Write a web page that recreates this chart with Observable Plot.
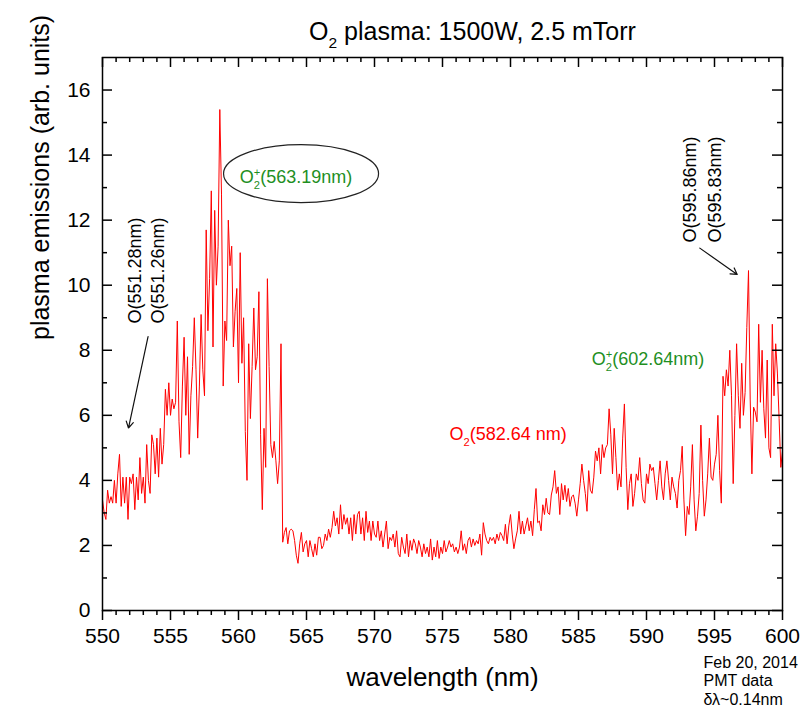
<!DOCTYPE html>
<html><head><meta charset="utf-8">
<script src="https://cdn.jsdelivr.net/npm/d3@7"></script>
<script src="https://cdn.jsdelivr.net/npm/@observablehq/plot@0.6"></script>
<style>html,body{margin:0;padding:0;background:#fff;}</style>
</head><body><div id="chart"></div>
<script>
// ---- data (8 samples per nm, 550 -> 600 nm) ----
const wavelengthStart = 550;
const wavelengthStep = 0.125;
const intensity = [
  3.4, 3.0, 2.8, 3.7, 3.3, 3.5, 3.3, 4.0,      // 550
  3.3, 4.2, 4.8, 3.2, 4.1, 3.3, 4.1, 2.8,      // 551
  4.1, 3.9, 4.2, 3.1, 4.1, 3.4, 4.7, 3.6,      // 552
  4.1, 3.3, 5.1, 4.0, 3.6, 5.4, 5.1, 4.2,      // 553
  5.3, 4.1, 5.6, 4.5, 5.1, 6.8, 6.0, 7.0,      // 554
  6.0, 6.5, 6.2, 6.4, 8.9, 5.8, 4.7, 6.9,      // 555
  8.4, 6.0, 7.8, 4.8, 6.6, 7.5, 9.0, 7.4,      // 556
  5.3, 6.9, 9.1, 7.4, 6.6, 11.7, 8.6, 10.2,    // 557
  12.9, 8.1, 12.3, 10.0, 11.2, 15.4, 12.8, 6.9,// 558
  8.9, 8.3, 12.0, 10.6, 11.2, 8.1, 9.2, 9.9,   // 559
  7.0, 11.0, 7.6, 9.0, 5.5, 4.0, 8.2, 5.9,     // 560
  7.5, 9.3, 7.4, 7.8, 9.8, 5.4, 3.1, 5.6,      // 561
  4.4, 10.2, 7.5, 5.1, 4.7, 5.2, 4.6, 3.9,     // 562
  4.6, 8.2, 2.1, 2.4, 2.55, 2.05, 2.45, 2.5,   // 563
  2.45, 2.15, 1.7, 1.45, 2.05, 2.4, 1.8, 2.05, // 564
  2.15, 1.65, 2.15, 1.9, 1.65, 2.05, 1.7, 2.25,// 565
  2.25, 1.9, 2.0, 2.35, 2.15, 2.5, 2.25, 2.55, // 566
  3.05, 2.6, 2.85, 2.35, 3.25, 2.5, 2.95, 2.65,// 567
  2.85, 2.35, 2.85, 2.15, 2.95, 2.35, 2.95, 3.05,// 568
  2.35, 2.85, 2.15, 3.05, 2.4, 2.75, 2.15, 2.75,// 569
  2.35, 2.25, 2.75, 2.15, 2.45, 1.95, 2.35, 2.75,// 570
  1.9, 2.25, 2.15, 2.35, 1.95, 2.45, 1.75, 1.65,// 571
  2.25, 1.95, 1.75, 2.35, 1.65, 2.15, 1.85, 2.2,// 572
  2.05, 1.75, 2.15, 1.95, 1.65, 2.05, 1.75, 1.95,// 573
  1.65, 2.2, 1.55, 1.95, 1.65, 2.15, 1.6, 1.95,// 574
  1.75, 2.15, 1.8, 1.95, 2.15, 1.95, 2.05, 1.8,// 575
  1.95, 1.75, 1.95, 2.45, 1.85, 2.05, 1.75, 2.15,// 576
  2.25, 1.95, 2.2, 2.0, 2.15, 2.05, 2.35, 1.7, // 577
  2.7, 2.35, 2.15, 2.05, 2.25, 2.15, 2.25, 2.05,// 578
  2.35, 2.15, 2.4, 2.3, 2.15, 2.65, 2.05, 2.6, // 579
  2.95, 2.35, 1.9, 2.2, 2.45, 3.05, 2.35, 2.75,// 580
  2.35, 2.6, 2.85, 2.45, 2.75, 2.3, 3.1, 3.75, // 581
  2.7, 2.75, 2.45, 3.25, 2.95, 3.45, 3.0, 2.95,// 582
  3.55, 3.8, 4.3, 3.6, 3.8, 2.95, 3.9, 3.4,    // 583
  3.85, 3.35, 3.75, 3.2, 3.5, 3.55, 3.3, 2.9,  // 584
  3.4, 3.9, 4.5, 4.0, 3.6, 3.05, 4.3, 3.7,     // 585
  3.6, 4.1, 4.9, 4.6, 5.0, 4.2, 5.1, 4.7,      // 586
  5.0, 5.1, 6.2, 5.4, 4.2, 5.6, 4.7, 3.7,      // 587
  4.2, 3.8, 5.3, 6.35, 4.4, 3.1, 3.9, 4.2,     // 588
  3.2, 3.6, 4.2, 4.0, 4.7, 3.9, 3.4, 3.3,      // 589
  4.2, 3.9, 4.5, 4.3, 4.4, 3.9, 3.4, 4.0,      // 590
  4.6, 3.8, 3.4, 4.2, 4.6, 4.0, 3.4, 4.1,      // 591
  3.8, 3.6, 3.15, 4.0, 4.3, 5.05, 3.4, 2.3,    // 592
  3.2, 2.95, 3.8, 5.1, 3.4, 2.45, 2.9, 3.6,    // 593
  5.7, 4.0, 2.9, 3.4, 4.2, 5.3, 4.1, 4.0,      // 594
  4.5, 4.8, 6.0, 4.3, 3.3, 7.2, 6.6, 7.4,      // 595
  6.9, 8.0, 6.6, 3.9, 6.0, 8.2, 6.6, 5.6,      // 596
  7.6, 6.0, 6.7, 8.7, 10.45, 6.5, 4.2, 6.25,   // 597
  6.1, 5.8, 8.8, 6.4, 8.0, 6.2, 5.3, 7.7,      // 598
  5.0, 4.7, 8.8, 6.6, 8.2, 7.3, 5.9, 4.4,      // 599
  4.9                                          // 600
];

const xMajorTicks = [550, 555, 560, 565, 570, 575, 580, 585, 590, 595, 600];
const xMinorTicks = d3.range(550, 601).filter(d => d % 5 !== 0);
const yMajorTicks = [0, 2, 4, 6, 8, 10, 12, 14, 16];
const yMinorTicks = [1, 3, 5, 7, 9, 11, 13, 15];

const titleText = "O₂ plasma: 1500W, 2.5 mTorr";
const xLabelText = "wavelength (nm)";
const yLabelText = "plasma emissions (arb. units)";
const footnoteLines = ["Feb 20, 2014", "PMT data", "δλ~0.14nm"];

// annotations (anchored in data coordinates: wavelength, intensity)
const flatLabels = [
  {label: "O₂⁺(563.19nm)", wl: 564.23, v: 13.31, color: "#1f8f1f"},
  {label: "O₂(582.64 nm)", wl: 579.82, v: 5.41, color: "#ff0000"},
  {label: "O₂⁺(602.64nm)", wl: 590.11, v: 7.72, color: "#1f8f1f"}
];
const verticalLabels = [
  {label: "O(551.28nm)", wl: 552.39, v: 10.45},
  {label: "O(551.26nm)", wl: 554.12, v: 10.45},
  {label: "O(595.86nm)", wl: 593.24, v: 12.94},
  {label: "O(595.83nm)", wl: 595.04, v: 12.94}
];
const arrows = [
  {wl1: 553.35, v1: 8.42, wl2: 551.91, v2: 5.61},
  {wl1: 593.92, v1: 11.14, wl2: 596.67, v2: 10.33}
];
const ellipseCenter = [{wl: 564.6, v: 13.43}];

const spectrum = intensity.map((v, i) => ({wavelength: wavelengthStart + i * wavelengthStep, intensity: v}));

const ellipseSymbol = {
  draw(ctx) {
    const rx = 77.5, ry = 29, k = 0.5523;
    ctx.moveTo(rx, 0);
    ctx.bezierCurveTo(rx, k * ry, k * rx, ry, 0, ry);
    ctx.bezierCurveTo(-k * rx, ry, -rx, k * ry, -rx, 0);
    ctx.bezierCurveTo(-rx, -k * ry, -k * rx, -ry, 0, -ry);
    ctx.bezierCurveTo(k * rx, -ry, rx, -k * ry, rx, 0);
    ctx.closePath();
  }
};

const chart = Plot.plot({
  width: 801,
  height: 707,
  marginLeft: 102,
  marginRight: 19,
  marginTop: 57,
  marginBottom: 97,
  style: {fontFamily: "'Liberation Sans', Arial, sans-serif", background: "#fff", color: "#000"},
  x: {domain: [550, 600]},
  y: {domain: [0, 17]},
  marks: [
    Plot.line(spectrum, {x: "wavelength", y: "intensity", stroke: "#ff0000", strokeWidth: 1}),
    Plot.frame({stroke: "#000", strokeWidth: 1.5}),
    Plot.axisX({ticks: xMajorTicks, tickSize: 10, tickPadding: 8, fontSize: 21, tickFormat: d => String(d), label: null, strokeWidth: 1.5}),
    Plot.axisX({ticks: xMinorTicks, tickSize: 5, tickPadding: 0, tickFormat: () => "", label: null, strokeWidth: 1.5}),
    Plot.tickX(xMajorTicks, {x: d => d, insetBottom: 543, stroke: "#000", strokeWidth: 1.5}),
    Plot.tickX(xMinorTicks, {x: d => d, insetBottom: 548, stroke: "#000", strokeWidth: 1.5}),
    Plot.axisY({ticks: yMajorTicks, tickSize: 0, tickPadding: 12, fontSize: 21, tickFormat: d => String(d), label: null}),
    Plot.tickY(yMajorTicks, {y: d => d, insetRight: 670, stroke: "#000", strokeWidth: 1.5}),
    Plot.tickY(yMinorTicks, {y: d => d, insetRight: 675, stroke: "#000", strokeWidth: 1.5}),
    Plot.tickY(yMajorTicks, {y: d => d, insetLeft: 670, stroke: "#000", strokeWidth: 1.5}),
    Plot.tickY(yMinorTicks, {y: d => d, insetLeft: 675, stroke: "#000", strokeWidth: 1.5}),
    // ellipse around the O2+ label
    Plot.dot(ellipseCenter, {x: "wl", y: "v", r: 5, symbol: ellipseSymbol, stroke: "#222", fill: "none", strokeWidth: 1.2}),
    Plot.text(flatLabels, {x: "wl", y: "v", text: "label", fill: "color", fontSize: 18}),
    Plot.text(verticalLabels, {x: "wl", y: "v", text: "label", rotate: -90, fill: "#000", fontSize: 18}),
    Plot.arrow(arrows, {x1: "wl1", y1: "v1", x2: "wl2", y2: "v2", stroke: "#111", strokeWidth: 1.2, headLength: 9}),
    // titles
    Plot.text([titleText], {text: d => d, frameAnchor: "top", dx: 30, dy: -35, fontSize: 25, fill: "#000"}),
    Plot.text([xLabelText], {text: d => d, frameAnchor: "bottom", dy: 75, fontSize: 26, fill: "#000"}),
    Plot.text([yLabelText], {text: d => d, frameAnchor: "left", dx: -62, dy: 6, rotate: -90, fontSize: 25, fill: "#000"}),
    Plot.text([footnoteLines.join("\n")], {text: d => d, frameAnchor: "bottom-right", dx: -79, dy: 44, textAnchor: "start", lineAnchor: "top", lineHeight: 1.16, fontSize: 16, fill: "#000"})
  ]
});

document.getElementById("chart").append(chart);

// turn ₂ / ⁺ into real sub/superscript tspans (stacked like the reference)
const NS = "http://www.w3.org/2000/svg";
chart.querySelectorAll("text").forEach(el => {
  if (el.querySelector("tspan")) return;
  const s = el.textContent;
  if (!/[₂⁺]/.test(s)) return;
  const fs = parseFloat(getComputedStyle(el).fontSize) || 18;
  const small = fs * 0.62;
  el.textContent = "";
  let buf = "", shift = 0, lastSubW = 0;
  const mk = (txt) => { const t = document.createElementNS(NS, "tspan"); t.textContent = txt; el.appendChild(t); return t; };
  const flush = () => {
    if (!buf) return;
    const t = mk(buf);
    if (shift) { t.setAttribute("dy", -shift); shift = 0; }
    buf = "";
  };
  for (const c of s) {
    if (c === "₂") {
      flush();
      const t = mk("2");
      t.setAttribute("font-size", small);
      t.setAttribute("dy", fs * 0.32 - shift);
      shift = fs * 0.32;
      lastSubW = small * 0.556;
    } else if (c === "⁺") {
      flush();
      const t = mk("+");
      t.setAttribute("font-size", small);
      if (lastSubW) t.setAttribute("dx", -lastSubW);
      t.setAttribute("dy", -fs * 0.4 - shift);
      shift = -fs * 0.4;
      lastSubW = 0;
    } else {
      buf += c;
    }
  }
  flush();
});
</script>
</body></html>
